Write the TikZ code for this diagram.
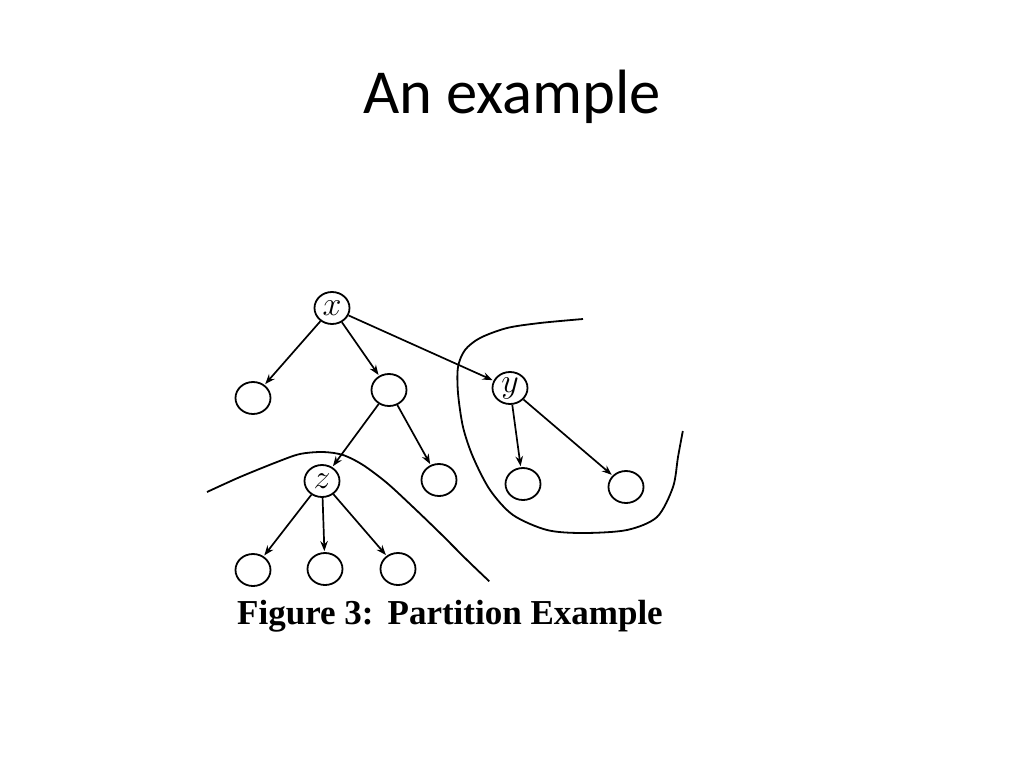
\RequirePackage{fix-cm}
\documentclass[tikz,border=0pt]{standalone}
\usepackage{amsmath}
\usepackage{fontspec}
\usepackage{tikz}
\usetikzlibrary{arrows.meta, shapes.geometric}
\newfontfamily\titlefont{Carlito}
\newfontfamily\capfont{Liberation Serif}
\newcommand{\vlabel}[1]{\fontsize{34}{34}\selectfont$#1$}

\begin{document}
\begin{tikzpicture}[x=1pt, y=-1pt, ->,>={Stealth[length=10pt, width=7.5pt]}, shorten >=1pt, line width=1.7pt,
  vert/.style={ellipse, draw, line width=1.8pt, minimum width=35pt, minimum height=32pt, inner sep=0pt}]
\useasboundingbox (0,0) rectangle (1024,768);
\node at (512,97) (title) {\titlefont\fontsize{62.6}{70}\selectfont An example};
\node[vert] at (332,308) (x) {\vlabel{x}};
\node[vert] at (253,398) (a) {};
\node[vert] at (389,390) (b) {};
\node[vert] at (510,388) (y) {\raisebox{2pt}{\vlabel{y}}};
\node[vert] at (322,481) (z) {\vlabel{z}};
\node[vert] at (439,480) (c) {};
\node[vert] at (523,484) (y1) {};
\node[vert] at (626,487) (y2) {};
\node[vert] at (253,570) (z1) {};
\node[vert] at (325,569) (z2) {};
\node[vert] at (398,569) (z3) {};
\draw (x) edge (a);
\draw (x) edge (b);
\draw (x) edge (y);
\draw (b) edge (z);
\draw (b) edge (c);
\draw (y) edge (y1);
\draw (y) edge (y2);
\draw (z) edge (z1);
\draw (z) edge (z2);
\draw (z) edge (z3);
% partition curves
\draw[-, line width=1.8pt] plot[smooth] coordinates {(207,492) (240,477) (277,462) (300,454) (323,452) (343,455) (363,465) (387,483) (413,507) (440,533) (467,560) (490,582)};
\draw[-, line width=1.8pt] plot[smooth] coordinates {(583,319) (540,323) (507,328) (480,338) (465,350) (458,367) (458,393) (463,427) (473,457) (490,490) (513,515) (547,530) (583,533) (627,530) (657,517) (673,487) (678,457) (683,430)};
\node at (450,616) (caption) {\capfont\bfseries\fontsize{35}{40}\selectfont Figure 3:\hspace{0.4em}Partition Example};
\end{tikzpicture}
\end{document}
